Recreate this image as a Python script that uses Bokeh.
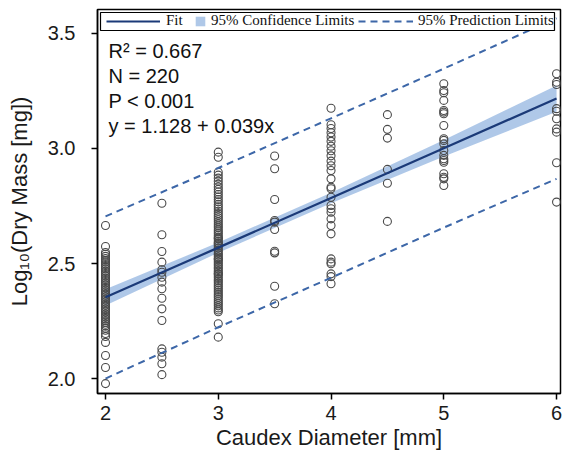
from bokeh.plotting import figure
from bokeh.models import Legend, LegendItem, Label, BoxAnnotation, Range1d
from bokeh.embed import file_html
from bokeh.resources import INLINE

# ---- data ----
diam_groups = [2, 2.5, 3, 3.5, 4, 4.5, 5, 6]
mass_d2 = [2.665, 2.574, 2.548, 2.540, 2.531, 2.522, 2.514, 2.507, 2.499, 2.491,
           2.483, 2.476, 2.468, 2.461, 2.452, 2.445, 2.437, 2.430, 2.422, 2.414,
           2.407, 2.399, 2.392, 2.384, 2.377, 2.369, 2.362, 2.355, 2.347, 2.340,
           2.333, 2.325, 2.318, 2.311, 2.303, 2.296, 2.289, 2.281, 2.274, 2.266,
           2.259, 2.252, 2.245, 2.236, 2.228, 2.219, 2.210, 2.196, 2.183, 2.157,
           2.100, 2.048, 1.978]
mass_d25 = [2.762, 2.625, 2.552, 2.506, 2.473, 2.462, 2.440, 2.419, 2.390, 2.349,
            2.303, 2.252, 2.129, 2.114, 2.093, 2.064, 2.017]
mass_d3 = [2.984, 2.962, 2.897, 2.884, 2.871, 2.858, 2.845, 2.833, 2.822, 2.811,
           2.800, 2.789, 2.778, 2.768, 2.757, 2.747, 2.737, 2.727, 2.717, 2.708,
           2.699, 2.690, 2.681, 2.672, 2.663, 2.655, 2.646, 2.638, 2.630, 2.622,
           2.614, 2.610, 2.606, 2.598, 2.590, 2.588, 2.582, 2.575, 2.567, 2.559,
           2.552, 2.544, 2.537, 2.529, 2.522, 2.520, 2.514, 2.507, 2.499, 2.492,
           2.484, 2.477, 2.469, 2.462, 2.455, 2.454, 2.447, 2.439, 2.431, 2.424,
           2.416, 2.408, 2.400, 2.392, 2.384, 2.376, 2.368, 2.360, 2.352, 2.343,
           2.334, 2.325, 2.316, 2.307, 2.298, 2.290, 2.238, 2.180]
mass_d35 = [2.967, 2.912, 2.778, 2.687, 2.680, 2.648, 2.553, 2.546, 2.401, 2.325]
mass_d4 = [3.175, 3.103, 3.087, 3.068, 3.050, 3.031, 3.010, 2.990, 2.968, 2.945,
           2.925, 2.904, 2.868, 2.832, 2.825, 2.788, 2.752, 2.738, 2.723, 2.694,
           2.665, 2.629, 2.520, 2.506, 2.499, 2.455, 2.443, 2.412]
mass_d45 = [3.147, 3.083, 3.045, 2.909, 2.849, 2.683]
mass_d5 = [3.281, 3.252, 3.242, 3.209, 3.165, 3.158, 3.151, 3.100, 3.042, 3.035,
           3.020, 2.991, 2.970, 2.955, 2.948, 2.940, 2.890, 2.875, 2.868, 2.839]
mass_d6 = [3.325, 3.288, 3.278, 3.173, 3.162, 3.129, 3.085, 3.071, 2.938, 2.767]
mass_groups = [mass_d2, mass_d25, mass_d3, mass_d35, mass_d4, mass_d45, mass_d5, mass_d6]

band_x = [2, 3, 4, 5, 6]
fit_y = [2.353, 2.569, 2.785, 3.001, 3.217]
conf_lo = [2.318, 2.547, 2.762, 2.965, 3.160]
conf_hi = [2.388, 2.591, 2.808, 3.037, 3.274]
pred_lo = [2.000, 2.223, 2.438, 2.656, 2.868]
pred_hi = [2.705, 2.915, 3.131, 3.347, 3.566]

x_ticks = [2, 3, 4, 5, 6]
y_ticks = [2.0, 2.5, 3.0, 3.5]
y_tick_labels = ["2.0", "2.5", "3.0", "3.5"]
stats_lines = ["R\u00b2 = 0.667", "N = 220", "P < 0.001", "y = 1.128 + 0.039x"]

xs, ys = [], []
for xv, vals in zip(diam_groups, mass_groups):
    xs += [xv] * len(vals)
    ys += vals

SANS = "Liberation Sans"
SERIF = "Liberation Serif"
FIT_C = "#1b3a78"
BAND_C = "#abc5e7"
PRED_C = "#3d67a8"

p = figure(width=563, height=455, output_backend="svg", toolbar_location=None,
           x_range=Range1d(1.929, 6.035), y_range=Range1d(1.935, 3.604),
           min_border_left=97, min_border_right=3, min_border_top=9,
           min_border_bottom=62)
p.grid.visible = False
p.outline_line_color = "black"
p.outline_line_width = 1.5

conf_r = p.varea(x=band_x, y1=conf_lo, y2=conf_hi, fill_color=BAND_C, fill_alpha=0.95)
p.scatter(xs, ys, marker="circle", size=8, fill_color=None,
          line_color="#4a4a4a", line_width=1.1)
fit_r = p.line(band_x, fit_y, line_color=FIT_C, line_width=2.2)
pl_r = p.line(band_x, pred_lo, line_color=PRED_C, line_width=2, line_dash="7 5")
ph_r = p.line(band_x, pred_hi, line_color=PRED_C, line_width=2, line_dash="7 5")

# axes
p.xaxis.ticker = x_ticks
p.yaxis.ticker = y_ticks
p.yaxis.major_label_overrides = {t: l for t, l in zip(y_ticks, y_tick_labels)}
for ax in (p.xaxis[0], p.yaxis[0]):
    ax.axis_line_color = "black"
    ax.axis_line_width = 1.5
    ax.major_tick_line_color = "black"
    ax.major_tick_line_width = 1.5
    ax.major_tick_in = 0
    ax.major_tick_out = 6
    ax.minor_tick_in = 0
    ax.minor_tick_out = 0
    ax.major_label_text_font = SANS
    ax.major_label_text_font_size = "20px"
    ax.major_label_text_color = "#1a1a1a"
    ax.axis_label_text_font = SANS
    ax.axis_label_text_font_size = "22px"
    ax.axis_label_text_font_style = "normal"
    ax.axis_label_text_color = "#1a1a1a"
p.xaxis.axis_label = "Caudex Diameter [mm]"
p.yaxis.axis_label = "Log\u2081\u2080(Dry Mass [mg])"
p.yaxis.major_label_standoff = 16
p.yaxis.axis_label_standoff = 13
p.xaxis.major_label_standoff = 6
p.xaxis.axis_label_standoff = 2

# legend box
box = BoxAnnotation(left=3, right=457, top=381, bottom=363,
                    left_units="screen", right_units="screen",
                    top_units="screen", bottom_units="screen",
                    fill_color="white", fill_alpha=1.0,
                    line_color="black", line_width=1.2, line_alpha=1.0)
p.add_layout(box)

def make_legend(label, rend, loc, gw, gh, standoff):
    lg = Legend(items=[LegendItem(label=label, renderers=[rend])], location=loc,
                orientation="horizontal", glyph_width=gw, glyph_height=gh,
                label_height=14, label_standoff=standoff, padding=2, margin=0,
                spacing=0, border_line_color=None, background_fill_alpha=0,
                label_text_font=SERIF, label_text_font_size="15px",
                label_text_color="#111111")
    p.add_layout(lg)

make_legend("Fit", fit_r, (9, 364), 54, 14, 6)
make_legend("95% Confidence Limits", conf_r, (97, 364), 12, 12, 5)
make_legend("95% Prediction Limits", ph_r, (261, 364), 55, 14, 5)

# statistics text
for i, txt in enumerate(stats_lines):
    p.add_layout(Label(x=11, y=343 - 25 * i, x_units="screen", y_units="screen",
                       text=txt, text_font=SANS, text_font_size="20px",
                       text_baseline="middle", text_color="#111111"))

open("out.html", "w").write(file_html(p, INLINE))
